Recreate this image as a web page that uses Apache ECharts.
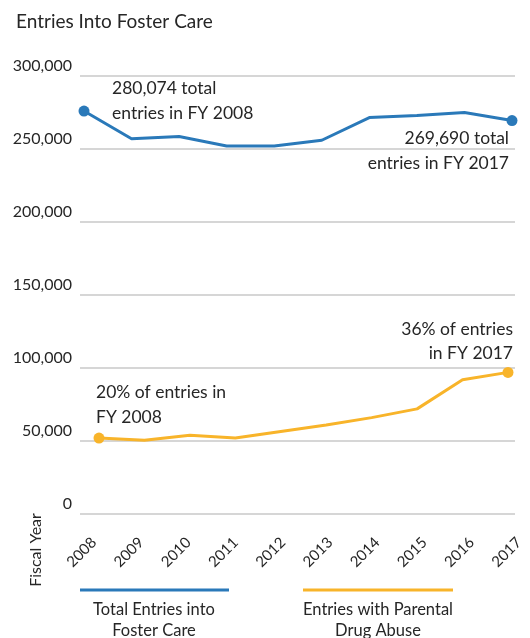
<!DOCTYPE html>
<html>
<head>
<meta charset="utf-8">
<script src="https://cdn.jsdelivr.net/npm/echarts@6/dist/echarts.min.js"></script>
<style>
  html, body { margin: 0; padding: 0; background: #fff; }
  #chart { width: 530px; height: 638px; }
</style>
</head>
<body>
<div id="chart"></div>
<script>
// fiscal years
const years = ['2008', '2009', '2010', '2011', '2012', '2013', '2014', '2015', '2016', '2017'];
// total entries into foster care
const totalEntries = [276000, 257000, 258500, 252000, 252000, 256000, 271500, 273000, 275000, 269500];
// entries with parental drug abuse
const drugEntries = [52000, 50500, 54000, 52000, 56500, 61000, 66000, 72000, 92000, 97000];
const yTicks = [0, 50000, 100000, 150000, 200000, 250000, 300000];

const font = 'Lato, "Open Sans", sans-serif';
const textColor = '#262626';
const blue = '#2a79b9';
const orange = '#f8b42a';

const chartDom = document.getElementById('chart');
let myChart = echarts.init(chartDom);

function endsOnly(arr) {
  return arr.map((v, i) => ({
    value: v,
    symbolSize: (i === 0 || i === arr.length - 1) ? 11 : 0
  }));
}

const yMin = yTicks[0];
const yMax = yTicks[yTicks.length - 1];

let option = {
  animation: false,
  title: {
    text: 'Entries Into Foster Care',
    left: 11,
    top: 7,
    textStyle: { color: textColor, fontSize: 19, fontWeight: 'normal', fontFamily: font }
  },
  grid: [
    { left: 84, right: 18, top: 76, bottom: 124 },   // blue line
    { left: 99, right: 22, top: 76, bottom: 124 },   // orange line
    { left: 94, right: 11, top: 76, bottom: 124 },   // year labels
    { left: 80, right: 15, top: 76, bottom: 124 }    // value labels + grid lines
  ],
  xAxis: [0, 1, 2, 3].map(i => ({
    gridIndex: i,
    type: 'category',
    data: years,
    boundaryGap: false,
    axisLine: { show: false },
    axisTick: { show: false },
    axisLabel: i === 2 ? {
      rotate: 45,
      margin: 26,
      color: textColor,
      fontSize: 15,
      fontFamily: font
    } : { show: false }
  })),
  yAxis: [0, 1, 2, 3].map(i => ({
    gridIndex: i,
    type: 'value',
    min: yMin,
    max: yMax,
    interval: 50000,
    axisLine: { show: false },
    axisTick: { show: false },
    splitLine: i === 3 ? { lineStyle: { color: '#c9c9c9', width: 1.5 } } : { show: false },
    axisLabel: i === 3 ? {
      margin: 8,
      verticalAlign: 'bottom',
      padding: [0, 0, 2, 0],
      color: textColor,
      fontSize: 16,
      fontFamily: font,
      formatter: v => v.toLocaleString('en-US')
    } : { show: false }
  })),
  series: [
    {
      name: 'Total Entries into Foster Care',
      type: 'line',
      xAxisIndex: 0,
      yAxisIndex: 0,
      data: endsOnly(totalEntries),
      symbol: 'circle',
      showAllSymbol: true,
      color: blue,
      lineStyle: { width: 3, color: blue },
      itemStyle: { color: blue }
    },
    {
      name: 'Entries with Parental Drug Abuse',
      type: 'line',
      xAxisIndex: 1,
      yAxisIndex: 1,
      data: endsOnly(drugEntries),
      symbol: 'circle',
      showAllSymbol: true,
      color: orange,
      lineStyle: { width: 3, color: orange },
      itemStyle: { color: orange }
    }
  ],
  graphic: [
    {
      type: 'text', x: 112, y: 76,
      style: { text: '280,074 total\nentries in FY 2008', fill: textColor, font: '17.5px ' + font, lineHeight: 25 }
    },
    {
      type: 'text', x: 509, y: 126,
      style: { text: '269,690 total\nentries in FY 2017', fill: textColor, font: '17.5px ' + font, lineHeight: 25, align: 'right' }
    },
    {
      type: 'text', x: 513, y: 317,
      style: { text: '36% of entries\nin FY 2017', fill: textColor, font: '17.5px ' + font, lineHeight: 24, align: 'right' }
    },
    {
      type: 'text', x: 96, y: 380,
      style: { text: '20% of entries in\nFY 2008', fill: textColor, font: '17.5px ' + font, lineHeight: 25 }
    },
    {
      type: 'text', x: 36, y: 550, rotation: Math.PI / 2,
      style: { text: 'Fiscal Year', fill: textColor, font: '16px ' + font, align: 'center', verticalAlign: 'middle' }
    },
    {
      type: 'line', shape: { x1: 80, y1: 590, x2: 229, y2: 590 },
      style: { stroke: blue, lineWidth: 3 }
    },
    {
      type: 'line', shape: { x1: 303, y1: 590, x2: 453, y2: 590 },
      style: { stroke: orange, lineWidth: 3 }
    },
    {
      type: 'text', x: 154, y: 599,
      style: { text: 'Total Entries into\nFoster Care', fill: textColor, font: '16.5px ' + font, lineHeight: 21, align: 'center' }
    },
    {
      type: 'text', x: 378, y: 599,
      style: { text: 'Entries with Parental\nDrug Abuse', fill: textColor, font: '16.5px ' + font, lineHeight: 21, align: 'center' }
    }
  ]
};
option && myChart.setOption(option);
</script>
</body>
</html>
